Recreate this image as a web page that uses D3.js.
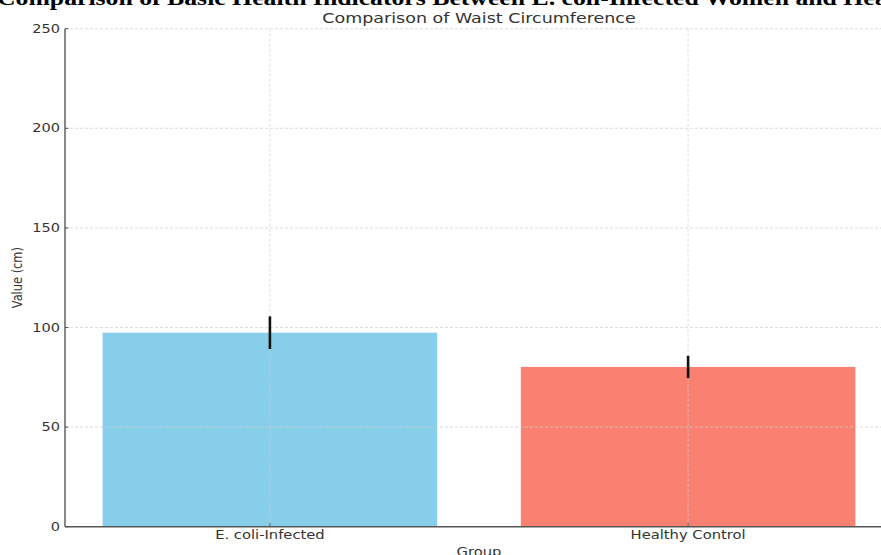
<!DOCTYPE html>
<html>
<head>
<meta charset="utf-8">
<script src="https://cdn.jsdelivr.net/npm/d3@7"></script>
<style>
  html, body { margin: 0; padding: 0; background: #fff; overflow: hidden; }
  svg { display: block; }
  text { font-family: "DejaVu Sans", sans-serif; fill: #333; }
</style>
</head>
<body>
<svg id="chart" width="881" height="555"></svg>
<script>
// ---- data ----
const categories = ["E. coli-Infected", "Healthy Control"];
const means = [97.4, 80.2];
const errors = [8.2, 5.6];
const barColors = ["#87CEEB", "#FA8072"];
const yTicks = [0, 50, 100, 150, 200, 250];
const suptitle = "Comparison of Basic Health Indicators Between E. coli-Infected Women and Healthy Controls";
const title = "Comparison of Waist Circumference";
const xLabel = "Group";
const yLabel = "Value (cm)";

// ---- layout ----
const W = 881, H = 555;
const plot = { left: 65, right: 893, top: 28.7, bottom: 526.7 };
const SX = 1.25; // horizontal stretch of text in the reference

const svg = d3.select("#chart");

const x = d3.scaleBand()
  .domain(categories)
  .range([plot.left, plot.right])
  .paddingInner(0.2)
  .paddingOuter(0.09);

const y = d3.scaleLinear().domain([0, 250]).range([plot.bottom, plot.top]);

function stretchedText(g, tx, ty, str, opts) {
  const t = g.append("text")
    .attr("transform", `translate(${tx},${ty}) scale(${SX},1)` + (opts.rotate ? ` rotate(${opts.rotate})` : ""))
    .attr("text-anchor", opts.anchor || "middle")
    .style("font-size", opts.size + "px")
    .text(str);
  if (opts.family) t.style("font-family", opts.family);
  if (opts.weight) t.style("font-weight", opts.weight);
  if (opts.fill) t.style("fill", opts.fill);
  if (opts.dy) t.attr("dy", opts.dy);
  return t;
}

// bars
svg.append("g").selectAll("rect")
  .data(categories)
  .join("rect")
  .attr("x", d => x(d))
  .attr("width", x.bandwidth())
  .attr("y", (d, i) => y(means[i]))
  .attr("height", (d, i) => y(0) - y(means[i]))
  .attr("fill", (d, i) => barColors[i]);

// grid (drawn above bars as in reference)
const grid = svg.append("g")
  .attr("stroke", "#cfcfcf")
  .attr("stroke-width", 0.7)
  .attr("stroke-dasharray", "3,2")
  .attr("fill", "none");
grid.selectAll("line.h")
  .data(yTicks.filter(v => v > 0))
  .join("line")
  .attr("class", "h")
  .attr("x1", plot.left).attr("x2", plot.right)
  .attr("y1", d => y(d)).attr("y2", d => y(d));
grid.selectAll("line.v")
  .data(categories)
  .join("line")
  .attr("class", "v")
  .attr("x1", d => x(d) + x.bandwidth() / 2).attr("x2", d => x(d) + x.bandwidth() / 2)
  .attr("y1", plot.top).attr("y2", plot.bottom);

// error bars
svg.append("g").selectAll("line")
  .data(categories)
  .join("line")
  .attr("x1", d => x(d) + x.bandwidth() / 2)
  .attr("x2", d => x(d) + x.bandwidth() / 2)
  .attr("y1", (d, i) => y(means[i] + errors[i]))
  .attr("y2", (d, i) => y(means[i] - errors[i]))
  .attr("stroke", "#111")
  .attr("stroke-width", 2.6);

// axes (custom drawn with d3 scales)
const axisColor = "#555";
const axes = svg.append("g");
axes.append("line")
  .attr("x1", plot.left).attr("x2", plot.left)
  .attr("y1", y(250)).attr("y2", y(0))
  .attr("stroke", axisColor).attr("stroke-width", 1.4);
axes.append("line")
  .attr("x1", plot.left).attr("x2", plot.right)
  .attr("y1", y(0)).attr("y2", y(0))
  .attr("stroke", axisColor).attr("stroke-width", 1.4);

axes.selectAll("line.yt")
  .data(yTicks)
  .join("line")
  .attr("class", "yt")
  .attr("x1", plot.left).attr("x2", plot.left + 3.5)
  .attr("y1", d => y(d)).attr("y2", d => y(d))
  .attr("stroke", axisColor).attr("stroke-width", 1);
yTicks.forEach(v => {
  stretchedText(axes, plot.left - 5, y(v), String(v), { size: 11.6, anchor: "end", dy: "0.36em" });
});

axes.selectAll("line.xt")
  .data(categories)
  .join("line")
  .attr("class", "xt")
  .attr("x1", d => x(d) + x.bandwidth() / 2).attr("x2", d => x(d) + x.bandwidth() / 2)
  .attr("y1", y(0)).attr("y2", y(0) - 3.5)
  .attr("stroke", axisColor).attr("stroke-width", 1);
categories.forEach(c => {
  stretchedText(axes, x(c) + x.bandwidth() / 2, 539.2, c, { size: 11.8 });
});

// axis labels
stretchedText(svg, (plot.left + plot.right) / 2, 556, xLabel, { size: 11.8 });
stretchedText(svg, 21.8, (plot.top + plot.bottom) / 2, yLabel, { size: 11.4, rotate: -90 });

// titles
stretchedText(svg, (plot.left + plot.right) / 2, 23, title, { size: 14 });
stretchedText(svg, -3, 4.5, suptitle, { size: 20.6, anchor: "start", family: "'Liberation Serif', 'Times New Roman', serif", weight: "bold", fill: "#000" });
</script>
</body>
</html>
